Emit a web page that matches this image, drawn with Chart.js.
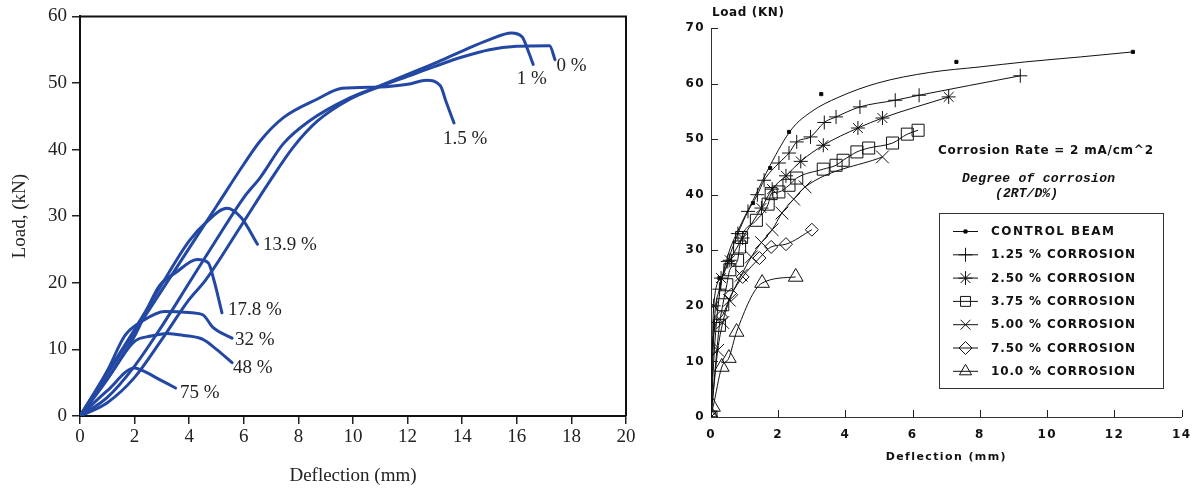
<!DOCTYPE html>
<html><head><meta charset="utf-8">
<script src="https://cdn.jsdelivr.net/npm/chart.js@4.4.1/dist/chart.umd.min.js"></script>
<style>
html,body{margin:0;padding:0;background:#fff;width:1201px;height:490px;overflow:hidden}
#l{position:absolute;left:0;top:0;width:650px;height:490px}
#r{position:absolute;left:660px;top:0;width:541px;height:490px}
</style></head><body>
<div id="l"><canvas id="cl"></canvas></div>
<div id="r"><canvas id="cr"></canvas></div>
<script>
// ---------- LEFT CHART DATA (deflection mm, load kN) ----------
const leftXTicks = [0,2,4,6,8,10,12,14,16,18,20];
const c0   = [[0,0],[1,2],[2,5.8],[3,11.5],[4,17.5],[4.6,20.4],[5.86,28.3],[6.96,35.3],[7.8,40.3],[8.7,44.3],[9.9,47.6],[11,49.5],[12,51],[13,52.5],[14,53.9],[15,55],[16,55.5],[17.2,55.6],[17.4,53.5]];
const c1   = [[0,0],[1,2.8],[2,7.5],[3,13.5],[4,20],[5,26.5],[6,32.8],[6.6,35.8],[7.45,40.9],[8.4,44.3],[9.9,47.8],[11,49.6],[12,51.3],[13,53],[14,54.8],[15,56.5],[15.8,57.5],[16.2,56.9],[16.4,55],[16.6,52.8]];
const c15  = [[0,0],[1,6.3],[2,12.6],[3,18.9],[4,25.2],[5,31.5],[6,37.8],[6.6,41.3],[7.45,44.8],[8.7,47.6],[9.6,49.2],[11,49.4],[12,49.8],[12.7,50.4],[13.2,49.6],[13.4,47.3],[13.7,44]];
const c139 = [[0,0],[1,6.5],[2,13],[3,19.8],[4,26.3],[4.6,29],[5.38,31.2],[5.9,29.8],[6.5,25.8]];
const c178 = [[0,0],[1,5.5],[2,12],[2.9,19.5],[3.5,21.5],[4.3,23.5],[4.7,23],[4.9,20.5],[5.2,15.5]];
const c32  = [[0,0],[1,6.8],[1.65,12.1],[2.3,14.3],[3.1,15.7],[4.1,15.5],[4.5,15.2],[4.87,13.3],[5.57,11.7]];
const c48  = [[0,0],[1,5.6],[2,11.2],[2.6,12],[3.2,12.4],[3.8,12.1],[4.5,11.5],[5,10],[5.57,8]];
const c75  = [[0,0],[1,3.8],[2,7.2],[2.3,6.8],[2.9,5.5],[3.5,4.2]];
const leftSeries = [c0,c1,c15,c139,c178,c32,c48,c75];
const leftLabels = ["0 %","1 %","1.5 %","13.9 %","17.8 %","32 %","48 %","75 %"];
const leftLabelAt = [[17.45,52.5],[16.0,50.6],[13.3,41.6],[6.7,25.7],[5.42,15.9],[5.68,11.4],[5.6,7.2],[3.66,3.4]];

// ---------- RIGHT CHART DATA ----------
const rightXTicks = [0,2,4,6,8,10,12,14];
const ctrlPts  = [[0,0],[0.25,25],[1.25,38.5],[1.76,44.8],[2.32,51.3],[3.28,58.1],[7.3,63.9],[12.55,65.7]];
const ctrlFit  = [[0,0],[0.1,12],[0.25,22],[0.5,29],[0.8,33.5],[1.25,39],[1.76,45.3],[2.4,51.8],[3.0,55.0],[3.78,57.5],[4.96,60.1],[6.5,62],[8,63],[9.35,63.9],[11,64.8],[12.55,65.7]];
const cor125 = [[0,0],[0.1,17],[0.25,23],[0.5,28],[0.8,33],[1.1,37],[1.38,40],[1.58,42.6],[2.02,45.7],[2.32,47.5],[2.55,49.5],[2.96,50.4],[3.37,53],[3.72,54],[4.43,55.8],[5.48,57],[6.19,57.9],[9.2,61.4]];
const cor250 = [[0,0],[0.08,20],[0.3,25],[0.56,28.2],[0.94,32.2],[1.5,37.6],[1.82,41],[2.23,43.4],[2.67,46],[3.34,48.9],[4.37,52],[5.1,53.8],[7.07,57.6]];
const cor375 = [[0,0],[0.25,16.5],[0.35,20.2],[0.47,23.8],[0.56,26.5],[0.79,28.2],[0.85,30.6],[0.91,32.3],[1.35,35.4],[1.7,38.3],[1.79,40.2],[2.02,40.5],[2.32,41.7],[2.55,43],[3.34,44.6],[3.72,45.3],[3.93,46.2],[4.34,47.7],[4.69,48.4],[5.4,49.3],[5.84,50.9],[6.16,51.6]];
const cor500 = [[0,0],[0.2,12],[0.35,17],[0.55,21],[0.9,25.5],[1.2,28.8],[1.5,31.4],[1.82,33.7],[2.11,36.7],[2.46,39.2],[2.8,41.4],[5.1,46.8]];
const cor750 = [[0,0],[0.03,12.4],[0.3,18],[0.6,22],[0.94,25.2],[1.44,28.6],[1.79,30.6],[2.23,31.1],[3.0,33.7]];
const cor100 = [[0,0.5],[0.06,1.8],[0.32,9],[0.53,10.6],[0.76,15.3],[1.52,24.1],[2.52,25.2]];
const legendNames = ["CONTROL BEAM","1.25 % CORROSION","2.50 % CORROSION","3.75 % CORROSION","5.00 % CORROSION","7.50 % CORROSION","10.0 % CORROSION"];

const BLUE = '#2348a3';
const toXY = a => a.map(p => ({x:p[0], y:p[1]}));

function spaced(ctx, text, x, y, width, font){
  ctx.save();
  try { ctx.letterSpacing = '0px'; } catch(e){}
  ctx.font = font;
  const n = text.length;
  const w = ctx.measureText(text).width;
  const extra = n > 1 ? (width - w) / (n - 1) : 0;
  let cx = x;
  for (const ch of text){ ctx.fillText(ch, cx, y); cx += ctx.measureText(ch).width + extra; }
  ctx.restore();
}

// ---------- LEFT CHART ----------
const serif = "'Liberation Serif', 'Times New Roman', serif";
const leftPlugin = {
  id: 'leftDeco',
  afterDraw(chart){
    const {ctx, chartArea: a, scales:{x,y}} = chart;
    ctx.save();
    ctx.strokeStyle = '#111'; ctx.lineWidth = 2;
    ctx.beginPath(); ctx.moveTo(a.left, a.top); ctx.lineTo(a.right, a.top); ctx.lineTo(a.right, a.bottom); ctx.stroke();
    ctx.fillStyle = '#222'; ctx.font = "19px " + serif; ctx.textAlign = 'left'; ctx.textBaseline = 'middle';
    leftLabels.forEach((t,i) => {
      ctx.fillText(t, x.getPixelForValue(leftLabelAt[i][0]), y.getPixelForValue(leftLabelAt[i][1]));
    });
    ctx.restore();
  }
};
new Chart(document.getElementById('cl'), {
  type: 'scatter',
  data: { datasets: leftSeries.map(s => ({
    data: toXY(s), showLine: true, borderColor: BLUE, borderWidth: 3, pointRadius: 0,
    cubicInterpolationMode: 'monotone', fill: false, borderCapStyle: 'round', borderJoinStyle: 'round'
  })) },
  options: {
    responsive: true, maintainAspectRatio: false, animation: false, devicePixelRatio: 1,
    layout: { padding: { top: 15, right: 24, left: 0, bottom: 0 } },
    plugins: { legend: { display: false }, tooltip: { enabled: false } },
    scales: {
      x: {
        type: 'linear', min: 0, max: 20,
        afterBuildTicks: s => { s.ticks = leftXTicks.map(v => ({value: v})); },
        afterFit: s => { s.height = 74; },
        ticks: { font: { family: serif, size: 19 }, color: '#222', padding: 2, maxRotation: 0 },
        grid: { drawOnChartArea: false, drawTicks: true, tickLength: 8, color: '#222', lineWidth: 1.5 },
        border: { display: true, color: '#111', width: 2 },
        title: { display: true, text: 'Deflection (mm)', font: { family: serif, size: 19 }, color: '#222', padding: { top: 0, bottom: 3 } }
      },
      y: {
        type: 'linear', min: 0, max: 60,
        ticks: { stepSize: 10, font: { family: serif, size: 19 }, color: '#222', padding: 5 },
        afterFit: s => { s.width = 80; },
        grid: { drawOnChartArea: false, drawTicks: true, tickLength: 8, color: '#222', lineWidth: 1.5 },
        border: { display: true, color: '#111', width: 2 },
        title: { display: true, text: 'Load, (kN)', font: { family: serif, size: 19 }, color: '#222', padding: { top: 9, bottom: 0 } }
      }
    }
  },
  plugins: [leftPlugin]
});

// ---------- RIGHT CHART ----------
const sans = "'DejaVu Sans', Verdana, sans-serif";
const mono = "'Liberation Mono', 'Courier New', monospace";
const markerStyles = [
  {pointStyle:'rect', radius:2.2, fill:'#000'},
  {pointStyle:'cross', radius:7, fill:'rgba(0,0,0,0)'},
  {pointStyle:'star', radius:7, fill:'rgba(0,0,0,0)'},
  {pointStyle:'rect', radius:8.5, fill:'rgba(0,0,0,0)'},
  {pointStyle:'crossRot', radius:9, fill:'rgba(0,0,0,0)'},
  {pointStyle:'rectRot', radius:6.5, fill:'rgba(0,0,0,0)'},
  {pointStyle:'triangle', radius:8.5, fill:'rgba(0,0,0,0)'}
];
const rightSeries = [ctrlPts, cor125, cor250, cor375, cor500, cor750, cor100];

function drawMarker(ctx, m, x, y){
  const opts = {pointStyle: m.pointStyle, radius: m.radius, borderWidth: 1, rotation: 0};
  ctx.save();
  ctx.strokeStyle = '#111'; ctx.fillStyle = m.fill; ctx.lineWidth = 1;
  if (window.Chart && Chart.helpers && Chart.helpers.drawPoint) {
    Chart.helpers.drawPoint(ctx, opts, x, y);
  }
  ctx.restore();
}

const rightPlugin = {
  id: 'rightDeco',
  beforeDraw(chart){ try { chart.ctx.letterSpacing = '1.4px'; } catch(e){} },
  afterDraw(chart){
    const {ctx, scales:{x,y}} = chart;
    ctx.save();
    ctx.strokeStyle = '#222'; ctx.lineWidth = 1;
    y.ticks.forEach(t => { if (t.value === 0) return; const py = Math.round(y.getPixelForValue(t.value)) + 0.5;
      ctx.beginPath(); ctx.moveTo(x.left, py); ctx.lineTo(x.left + 7, py); ctx.stroke(); });
    x.ticks.forEach(t => { if (t.value === 0) return; const px = Math.round(x.getPixelForValue(t.value)) + 0.5;
      ctx.beginPath(); ctx.moveTo(px, y.bottom); ctx.lineTo(px, y.bottom - 7); ctx.stroke(); });
    ctx.fillStyle = '#111'; ctx.textAlign = 'left'; ctx.textBaseline = 'middle';
    spaced(ctx, 'Load (KN)', 52, 13, 72, "bold 12px " + sans);
    spaced(ctx, 'Corrosion Rate = 2 mA/cm^2', 278, 151, 215, "bold 12px " + sans);
    spaced(ctx, 'Degree of corrosion', 302, 179, 153, "italic bold 13px " + mono);
    spaced(ctx, '(2RT/D%)', 335, 194, 63, "italic bold 13px " + mono);
    // legend box
    ctx.strokeStyle = '#333'; ctx.lineWidth = 1;
    ctx.strokeRect(279.5, 213.5, 224, 175);
    legendNames.forEach((name, i) => {
      const ry = 231.5 + i * 23.3;
      ctx.strokeStyle = '#111'; ctx.lineWidth = 1;
      ctx.beginPath(); ctx.moveTo(293, ry); ctx.lineTo(318, ry); ctx.stroke();
      const m = Object.assign({}, markerStyles[i]);
      if (i > 0) m.radius = Math.min(m.radius, 7);
      drawMarker(ctx, m, 305.5, ry);
      ctx.fillStyle = '#111';
      spaced(ctx, name, 331, ry + 0.5, i === 0 ? 123 : 144, "bold 12px " + sans);
    });
    ctx.restore();
  }
};

const rightDatasets = [{
  data: toXY(ctrlFit), showLine: true, borderColor: '#111', borderWidth: 1, pointRadius: 0,
  cubicInterpolationMode: 'monotone', fill: false
}];
rightSeries.forEach((s, i) => {
  const m = markerStyles[i];
  rightDatasets.push({
    data: toXY(s), showLine: i !== 0, borderColor: '#111', borderWidth: 1,
    pointStyle: m.pointStyle, pointRadius: m.radius, pointBorderWidth: 1,
    pointBorderColor: '#111', pointBackgroundColor: m.fill,
    cubicInterpolationMode: 'monotone', fill: false
  });
});

new Chart(document.getElementById('cr'), {
  type: 'scatter',
  data: { datasets: rightDatasets },
  options: {
    responsive: true, maintainAspectRatio: false, animation: false, devicePixelRatio: 1,
    layout: { padding: { top: 28, right: 12, left: 0, bottom: 0 } },
    plugins: { legend: { display: false }, tooltip: { enabled: false } },
    scales: {
      x: {
        type: 'linear', min: 0, max: 14,
        afterBuildTicks: s => { s.ticks = rightXTicks.map(v => ({value: v})); },
        afterFit: s => { s.height = 73; },
        ticks: { font: { family: sans, size: 12, weight: 'bold' }, color: '#111', padding: 11, maxRotation: 0 },
        grid: { drawOnChartArea: false, drawTicks: false },
        border: { display: true, color: '#333', width: 1 },
        title: { display: true, text: 'Deflection (mm)', font: { family: sans, size: 11, weight: 'bold' }, color: '#111', padding: { top: 0, bottom: 26 } }
      },
      y: {
        type: 'linear', min: 0, max: 70,
        ticks: { stepSize: 10, font: { family: sans, size: 12, weight: 'bold' }, color: '#111', padding: 6 },
        afterFit: s => { s.width = 51; },
        grid: { drawOnChartArea: false, drawTicks: false },
        border: { display: true, color: '#333', width: 1 }
      }
    }
  },
  plugins: [rightPlugin]
});
</script>
</body></html>
